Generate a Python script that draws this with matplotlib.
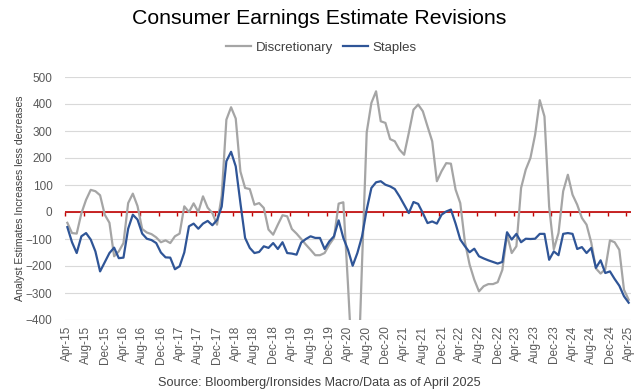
import pandas as pd
import matplotlib
matplotlib.use('Agg')
import matplotlib.pyplot as plt

# monthly data, Apr-15 .. Apr-25
months = pd.date_range('2015-04-01', periods=121, freq='MS').strftime('%b-%y').tolist()

discretionary = [
    -40, -78, -80, -5, 45, 82, 77, 62, -10, -40, -164, -146, -115, 33, 68, 22,
    -63, -76, -82, -94, -112, -105, -115, -90, -80, 21, 0, 32, 0, 58, 16, -4,
    -47, 60, 342, 388, 346, 150, 89, 85, 27, 33, 15, -65, -84, -47, -12, -16,
    -63, -80, -100, -121, -140, -160, -160, -152, -121, -96, 31, 36, -270, -600,
    -700, -190, 295, 404, 447, 336, 330, 270, 262, 231, 212, 293, 379, 398,
    373, 317, 262, 114, 151, 181, 179, 83, 33, -112, -195, -251, -294, -275,
    -267, -267, -260, -214, -84, -152, -127, 89, 157, 200, 286, 414, 354, 20,
    -138, -78, 77, 138, 64, 27, -22, -47, -113, -209, -228, -212, -105, -112,
    -140, -288, -325,
]

staples = [
    -56, -112, -152, -90, -78, -102, -146, -220, -186, -152, -132, -171, -169, -62, -10, -28,
    -80, -99, -104, -115, -150, -168, -169, -212, -201, -150, -53, -43, -62, -43, -33, -49,
    -30, 20, 188, 223, 169, 33, -96, -133, -152, -148, -127, -133, -115, -137, -112, -152,
    -154, -158, -113, -100, -90, -96, -96, -137, -109, -90, -31, -96, -140, -199,
    -152, -90, 9, 89, 110, 114, 101, 95, 85, 58, 27, -4, 37, 30,
    -4, -41, -35, -43, -10, 2, 9, -43, -102, -127, -149, -136, -164, -172,
    -179, -185, -191, -185, -75, -102, -81, -112, -99, -100, -99, -81, -81, -177,
    -146, -160, -81, -78, -81, -137, -130, -152, -133, -207, -179, -226, -220, -248,
    -273, -312, -336,
]

y_ticks = list(range(-400, 501, 100))

plt.rcParams['font.family'] = ['Liberation Sans', 'DejaVu Sans']

x = list(range(len(months)))

fig = plt.figure(figsize=(6.39, 3.90), dpi=100)
ax = fig.add_axes([65 / 639, 1 - 320 / 390, 566 / 639, 243 / 390])

ax.plot(x, discretionary, color='#A5A5A5', lw=1.6, label='Discretionary', zorder=3)
ax.plot(x, staples, color='#2F5597', lw=1.6, label='Staples', zorder=4)

ax.axhline(0, color='#C00000', lw=1.2, zorder=2)

ax.set_xlim(-0.5, 120.5)
ax.set_ylim(-400, 500)
ax.set_yticks(y_ticks)
ax.grid(axis='y', color='#D9D9D9', lw=0.8, zorder=0)
ax.set_axisbelow(True)
for s in ax.spines.values():
    s.set_visible(False)

ax.set_xticks(x[::4])
ax.set_xticklabels(months[::4], rotation=90)
ax.tick_params(axis='x', length=0, pad=4, labelsize=8.5, labelcolor='#595959')
ax.tick_params(axis='y', length=0, pad=9, labelsize=8.5, labelcolor='#595959')

# small red tick marks on the zero line, between categories
sec = ax.secondary_xaxis(0, transform=ax.transData)
sec.set_xticks([i - 0.5 for i in x[::4]])
sec.tick_params(axis='x', length=3, width=1, color='#C00000', labelbottom=False, direction='out')
sec.spines['bottom'].set_visible(False)

ax.set_ylabel('Analyst Estimates Increases less decreases', fontsize=7.6, color='#404040')
ax.yaxis.set_label_coords(-0.07, 0.5)

fig.text(0.5, 1 - 18 / 390, 'Consumer Earnings Estimate Revisions', ha='center', va='center',
         fontsize=15.3, color='black')
fig.legend(loc='center', bbox_to_anchor=(0.503, 1 - 48 / 390), ncol=2, frameon=False,
           fontsize=9.5, handlelength=1.9, handletextpad=0.35, columnspacing=0.7,
           labelcolor='#404040')
fig.text(0.5, 1 - 383 / 390, 'Source: Bloomberg/Ironsides Macro/Data as of April 2025', ha='center',
         va='center', fontsize=9.1, color='#404040')

fig.savefig('out.png', dpi=100)
